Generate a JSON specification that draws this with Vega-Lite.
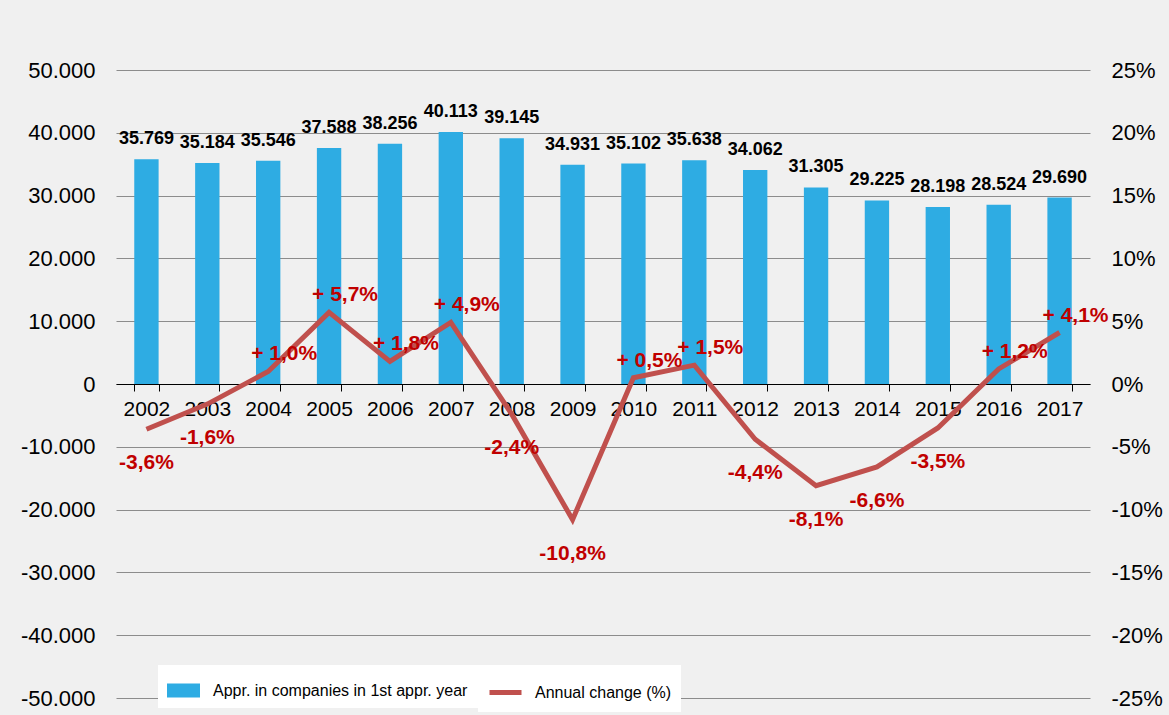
{
  "$schema": "https://vega.github.io/schema/vega-lite/v6.json",
  "width": 974,
  "height": 628,
  "autosize": {"type": "none"},
  "padding": {"left": 116, "top": 70, "right": 79, "bottom": 17},
  "background": "#F0F0F0",
  "config": {"view": {"stroke": null}, "font": "Liberation Sans"},
  "data": {
    "values": [
      {"year": "2002", "count": 35769, "pct": -3.6},
      {"year": "2003", "count": 35184, "pct": -1.6},
      {"year": "2004", "count": 35546, "pct": 1.0},
      {"year": "2005", "count": 37588, "pct": 5.7},
      {"year": "2006", "count": 38256, "pct": 1.8},
      {"year": "2007", "count": 40113, "pct": 4.9},
      {"year": "2008", "count": 39145, "pct": -2.4},
      {"year": "2009", "count": 34931, "pct": -10.8},
      {"year": "2010", "count": 35102, "pct": 0.5},
      {"year": "2011", "count": 35638, "pct": 1.5},
      {"year": "2012", "count": 34062, "pct": -4.4},
      {"year": "2013", "count": 31305, "pct": -8.1},
      {"year": "2014", "count": 29225, "pct": -6.6},
      {"year": "2015", "count": 28198, "pct": -3.5},
      {"year": "2016", "count": 28524, "pct": 1.2},
      {"year": "2017", "count": 29690, "pct": 4.1}
    ]
  },
  "layer": [
    {
      "layer": [
        {
          "mark": {"type": "bar"},
          "encoding": {
            "x": {
              "field": "year", "type": "ordinal",
              "scale": {"paddingInner": 0.6, "paddingOuter": 0.3},
              "axis": {
                "orient": "bottom", "offset": -314, "title": null, "labelAngle": 0,
                "labelFontSize": 21, "labelFont": "Liberation Sans", "labelColor": "black",
                "domainColor": "black", "domainWidth": 1, "tickColor": "black", "tickSize": 7,
                "labelPadding": 7, "tickBand": "extent", "grid": false
              }
            },
            "y": {
              "field": "count", "type": "quantitative",
              "scale": {"domain": [-50000, 50000], "nice": false, "zero": false},
              "axis": {
                "orient": "left", "title": null,
                "values": [-50000, -40000, -30000, -20000, -10000, 0, 10000, 20000, 30000, 40000, 50000],
                "labelExpr": "(datum.value < 0 ? '-' : '') + replace(format(abs(datum.value), ','), ',', '.')",
                "labelFontSize": 22, "labelFont": "Liberation Sans", "labelColor": "black",
                "labelPadding": 21, "ticks": false, "domain": false,
                "grid": true, "gridColor": "#8C8C8C", "gridWidth": 1
              }
            },
            "fill": {
              "datum": "Appr. in companies in 1st  appr. year", "type": "nominal",
              "scale": {"range": ["#2EACE3"]},
              "legend": {
                "orient": "none", "legendX": 42, "legendY": 595, "title": null,
                "fillColor": "white", "padding": 9,
                "labelFontSize": 16, "labelFont": "Liberation Sans", "labelColor": "black",
                "labelLimit": 500,
                "symbolType": "M-1,-0.42H1V0.42H-1Z", "symbolSize": 1089,
                "symbolStrokeWidth": 0, "labelOffset": 13
              }
            }
          }
        },
        {
          "mark": {
            "type": "text", "font": "Liberation Sans", "fontSize": 18, "fontWeight": "bold",
            "color": "black", "baseline": "alphabetic", "align": "center", "dy": -15,
            "text": {"expr": "replace(format(datum.count, ','), ',', '.')"}
          },
          "encoding": {
            "x": {"field": "year", "type": "ordinal"},
            "y": {"field": "count", "type": "quantitative"}
          }
        }
      ]
    },
    {
      "layer": [
        {
          "mark": {"type": "line", "strokeWidth": 5},
          "encoding": {
            "x": {"field": "year", "type": "ordinal"},
            "y": {
              "field": "pct", "type": "quantitative",
              "scale": {"domain": [-25, 25], "nice": false, "zero": false},
              "axis": {
                "orient": "right", "title": null,
                "values": [-25, -20, -15, -10, -5, 0, 5, 10, 15, 20, 25],
                "labelExpr": "(datum.value < 0 ? '-' : '') + abs(datum.value) + '%'",
                "labelFontSize": 22, "labelFont": "Liberation Sans", "labelColor": "black",
                "labelPadding": 21, "ticks": false, "domain": false, "grid": false
              }
            },
            "stroke": {
              "datum": "Annual change (%)", "type": "nominal",
              "scale": {"range": ["#C0504D"]},
              "legend": {
                "orient": "none", "legendX": 362, "legendY": 595, "title": null,
                "fillColor": "white", "padding": 9,
                "labelFontSize": 16, "labelFont": "Liberation Sans", "labelColor": "black",
                "labelLimit": 500,
                "symbolType": "stroke", "symbolSize": 1024, "symbolStrokeWidth": 5,
                "labelOffset": 11
              }
            }
          }
        },
        {
          "transform": [{"filter": "datum.pct > 0"}],
          "mark": {
            "type": "text", "font": "Liberation Sans", "fontSize": 21, "fontWeight": "bold",
            "color": "#C00000", "baseline": "alphabetic", "align": "center", "dx": 16, "dy": -11,
            "text": {"expr": "'+ ' + replace(format(datum.pct, '.1f'), '.', ',') + '%'"}
          },
          "encoding": {
            "x": {"field": "year", "type": "ordinal"},
            "y": {"field": "pct", "type": "quantitative"}
          }
        },
        {
          "transform": [{"filter": "datum.pct < 0"}],
          "mark": {
            "type": "text", "font": "Liberation Sans", "fontSize": 21, "fontWeight": "bold",
            "color": "#C00000", "baseline": "alphabetic", "align": "center", "dx": 0, "dy": 40,
            "text": {"expr": "'-' + replace(format(-datum.pct, '.1f'), '.', ',') + '%'"}
          },
          "encoding": {
            "x": {"field": "year", "type": "ordinal"},
            "y": {"field": "pct", "type": "quantitative"}
          }
        }
      ]
    }
  ],
  "resolve": {"scale": {"y": "independent"}}
}
